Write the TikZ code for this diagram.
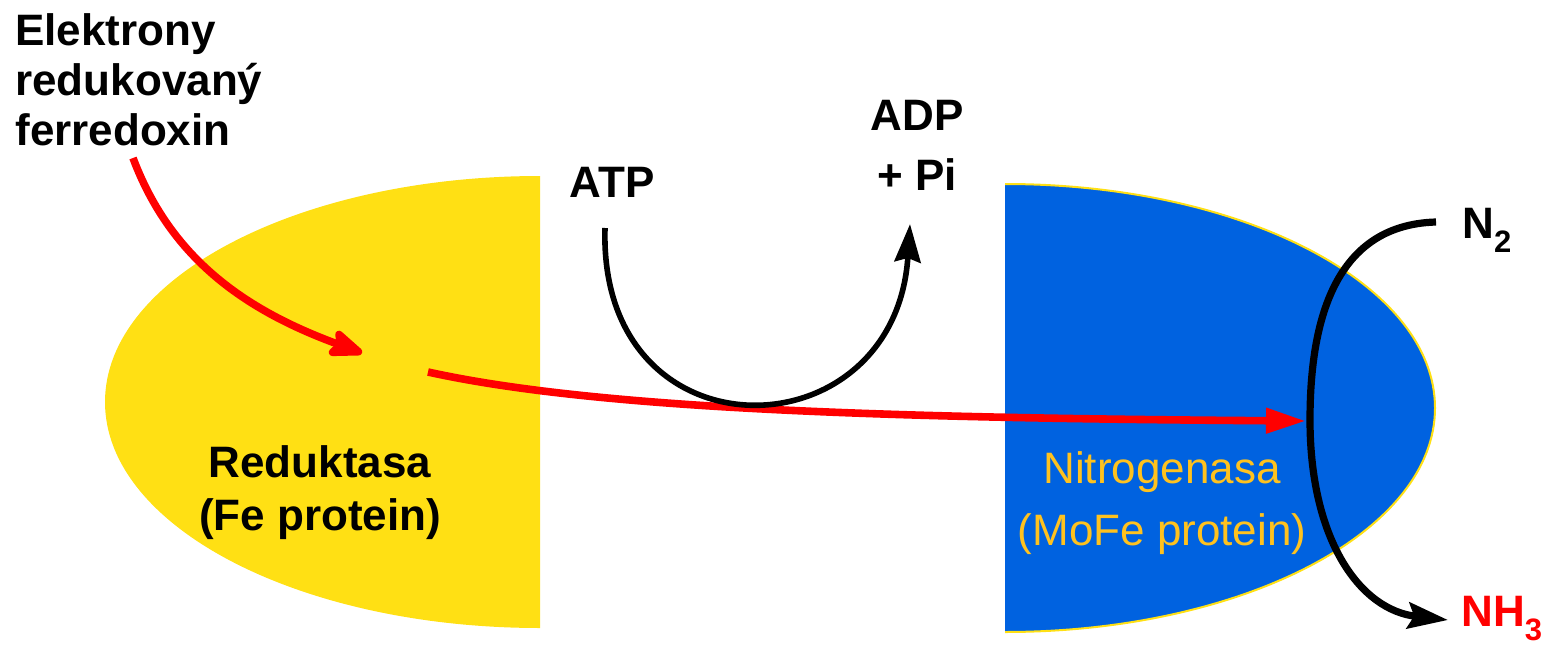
\documentclass[tikz,border=0pt]{standalone}
\usepackage{fontspec}
\setmainfont{Liberation Sans}
\usetikzlibrary{arrows.meta}

\definecolor{fecolor}{HTML}{FFE014}
\definecolor{mofecolor}{HTML}{0062E0}
\definecolor{mofetext}{HTML}{FFC21E}
\definecolor{eflow}{HTML}{FF0000}

% lowered chemical index
\newcommand{\chemidx}[1]{\raisebox{-7pt}{\fontsize{15.5}{16}\selectfont #1}}

\begin{document}
\begin{tikzpicture}[x=0.5pt,y=-0.5pt,
  lbl/.style={inner sep=0pt, font=\fontsize{22}{25}\selectfont},
  boldlbl/.style={inner sep=0pt, font=\fontsize{22}{25}\selectfont\bfseries},
  electron/.style={draw=eflow, line width=3.8pt},
  energy/.style={draw=black, line width=2.8pt},
  substrate/.style={draw=black, line width=3.6pt},
]
\useasboundingbox (0,0) rectangle (1551,647);

% Fe protein (left half ellipse)
\begin{scope}
  \clip (0,0) rectangle (540,647);
  \fill[fecolor] (540,402) ellipse [x radius=435, y radius=226];
\end{scope}

% MoFe protein (right half ellipse)
\begin{scope}
  \clip (1005,0) rectangle (1551,647);
  \fill[mofecolor] (1005,408) ellipse [x radius=430, y radius=224];
  \draw[fecolor, line width=1pt] (1005,408) ellipse [x radius=430, y radius=224];
\end{scope}

% labels (base anchor of a multi-line node sits on its last line)
\node[boldlbl, anchor=north west, align=left] (ferre) at (15,13)
  {Elektrony\\redukovaný\\ferredoxin};
\node[boldlbl, anchor=base] (atp) at (612,197) {ATP};
\node[boldlbl, anchor=base, align=center, font=\fontsize{22}{30}\selectfont\bfseries]
  (adp) at (917,190) {ADP\\+ Pi};
\node[boldlbl, anchor=base west] (ntwo) at (1462,238) {N\chemidx{2}};
\node[boldlbl, anchor=base west, text=eflow] (nhthree) at (1461,626) {NH\chemidx{3}};
\node[boldlbl, anchor=base, align=center, font=\fontsize{22}{26.5}\selectfont\bfseries]
  (fe) at (320,530) {Reduktasa\\(Fe protein)};
\node[lbl, anchor=base, align=center, text=mofetext, font=\fontsize{22}{31}\selectfont]
  (mofe) at (1162,545) {Nitrogenasa\\(MoFe protein)};

% connector end points
\coordinate (eIn)   at (133,158);
\coordinate (eMid)  at (362,353);
\coordinate (eOut)  at (428,372);
\coordinate (eEnd)  at (1306,421);
\coordinate (atpA)  at (605,228);
\coordinate (adpA)  at (910,224);
\coordinate (nA)    at (1436,222);
\coordinate (nB)    at (1310,420);
\coordinate (nhA)   at (1448,620);

% electron flow
\draw[electron, -{Stealth[length=21pt, width=16pt, inset=4pt, round]}]
  (eIn) .. controls (172,262) and (250,312) .. (eMid);
\draw[electron, -{Triangle[length=20pt, width=12pt]}]
  (eOut) .. controls (600,410) and (900,418) .. (eEnd);

% ATP hydrolysis
\draw[energy, -{Stealth[length=19pt, width=13pt, inset=2pt]}]
  (atpA) .. controls (598,462) and (895,457) .. (adpA);

% N2 reduction
\draw[substrate, -{Stealth[length=20pt, width=13pt, inset=3pt]}]
  (nA) .. controls (1330,225) and (1310,330) .. (nB)
       .. controls (1310,540) and (1360,610) .. (nhA);
\end{tikzpicture}
\end{document}
